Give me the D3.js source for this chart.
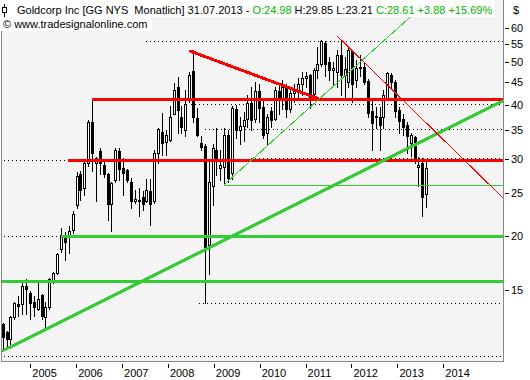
<!DOCTYPE html>
<html>
<head>
<meta charset="utf-8">
<script src="https://cdn.jsdelivr.net/npm/d3@7"></script>
<style>
  body { margin: 0; background: #fff; }
  svg { display: block; font-family: "Liberation Sans", Arial, sans-serif; }
</style>
</head>
<body>
<svg id="chart" width="530" height="380"></svg>
<script>
// monthly bars, Jun 2004 .. Jul 2013
const months = d3.timeMonth.range(new Date(2004, 5, 1), new Date(2013, 7, 1));

const open = [12.5,12.0,11.6,13.0,13.95,13.9,15.3,14.8,14.1,13.6,14.6,13.0,13.7,15.8,16.4,18.6,19.9,19.9,20.6,23.5,
  27.7,25.7,29.3,36.4,29.3,31.3,29.1,27.7,23.7,26.8,31.3,28.6,28.3,26.5,24.0,24.2,24.5,24.0,25.3,24.0,
  30.9,34.6,32.9,33.1,38.1,43.8,37.4,34.9,41.0,47.8,37.3,32.6,32.1,19.0,26.0,31.4,28.6,28.8,34.1,27.9,
  39.0,35.0,35.8,37.0,40.4,37.0,43.0,39.5,34.5,38.7,37.0,43.0,41.0,43.9,39.0,42.5,43.0,44.6,46.0,46.7,
  42.4,48.0,49.7,55.5,50.1,48.0,47.6,52.0,46.7,45.0,53.0,45.6,48.6,48.9,45.4,38.7,37.6,37.5,37.5,41.3,
  46.9,45.2,38.9,37.0,36.0,32.6,33.7,28.7,29.3,24.98];
const high = [12.6,12.1,13.05,14.1,14.5,15.6,15.9,14.95,14.5,15.6,14.7,14.1,16.0,16.5,18.2,20.8,20.4,21.0,22.8,28.0,
  28.1,29.5,36.8,41.4,30.3,31.8,29.8,27.8,26.5,31.8,31.8,30.1,28.4,27.2,25.5,25.7,25.3,27.0,27.0,31.4,
  35.3,38.3,35.0,39.8,44.8,46.3,39.8,43.3,47.5,53.4,39.2,33.9,32.5,29.5,32.5,35.4,31.5,35.4,35.0,39.7,
  40.0,37.5,38.5,42.0,44.0,45.0,44.5,41.0,38.0,39.5,43.8,44.5,45.5,44.5,43.5,44.5,46.0,47.5,47.5,47.0,
  48.5,54.2,56.2,56.0,51.5,50.0,53.5,56.3,51.5,54.0,53.5,50.6,52.0,50.0,45.8,41.0,39.5,39.5,43.2,47.5,
  47.3,45.5,39.5,38.0,36.5,34.5,33.8,30.3,30.2,29.85];
const low = [11.0,11.0,11.2,12.9,13.1,13.2,13.2,12.9,13.1,13.5,12.9,12.2,13.6,15.6,16.3,18.3,17.6,18.2,20.3,23.1,
  24.1,24.8,28.9,28.2,24.0,27.7,27.3,21.7,20.5,26.5,26.8,24.8,26.6,23.1,23.8,22.2,22.9,23.9,21.2,23.8,
  29.3,30.6,30.6,33.0,38.0,34.5,34.5,33.9,40.6,36.5,33.9,31.5,14.0,16.3,23.5,27.5,26.8,26.2,26.5,27.0,
  33.5,32.5,33.0,35.5,35.0,36.5,36.5,33.5,32.5,35.5,36.8,38.0,39.0,37.5,38.5,40.5,41.5,42.0,44.0,39.3,
  41.5,46.0,49.0,46.5,45.5,44.5,44.0,42.2,41.0,44.0,40.5,43.9,46.5,44.5,37.5,31.5,35.3,31.5,35.3,41.0,
  43.5,37.5,34.5,34.0,31.0,30.5,29.3,26.0,22.2,23.21];
const close = [11.7,11.6,13.0,14.0,13.8,15.3,15.1,14.0,13.7,14.3,13.1,13.7,15.9,16.4,18.1,20.1,19.3,20.5,22.4,27.4,
  25.5,29.3,36.4,30.9,30.1,29.3,27.7,23.7,26.4,31.4,28.5,27.9,26.8,24.0,24.3,24.1,23.7,25.5,23.6,30.9,
  35.1,32.7,34.1,37.4,43.2,38.8,35.6,40.1,46.7,37.5,34.1,32.0,18.7,26.5,31.8,29.8,29.0,34.0,27.2,39.3,
  35.0,35.8,36.8,40.4,36.8,43.0,39.3,34.0,37.5,36.8,43.2,41.0,43.9,39.0,42.5,43.0,44.6,46.0,46.5,41.6,
  48.0,49.7,56.0,49.7,48.0,48.5,52.0,46.7,48.3,53.5,44.5,48.6,48.9,45.2,38.3,36.3,37.4,35.9,42.0,47.3,
  45.2,38.7,36.6,35.5,33.9,34.1,29.8,29.1,24.6,28.61];

// drawn support / resistance levels (price, starting bar index)
const redLevels = [41.2, 29.8];
const redFrom = [23, 16.9];
const greenLevels = [20.0, 15.7];
const greenFrom = [15, -0.7];
const thinGreenLevel = 26.2;
const thinGreenFrom = 57;
// dotted price lines (price, from bar, to bar)
const dotLevels = [56.1, 40.1, 35.1, 30.1, 29.8, 20.0, 14.0, 10.6];
const dotFrom = [37, 48.5, 52, 64, -0.7, -0.7, 50.5, -0.7];
const dotTo = [129, 129, 129, 129, 16.9, 15, 129, 129];
// trend lines: [bar index, price] pairs
const greenTrend = [[-0.7, 10.8], [128.8, 40.8]];
const greenTrendThin = [[57, 26.2], [109.2, 68.9]];
const redTrend = [[48, 53.2], [81.2, 41.3]];
const redTrendThin = [[86.1, 57.5], [128.8, 24.4]];

const yTicks = [15, 20, 25, 30, 35, 40, 45, 50, 55, 60];

const plot = { left: 1, right: 503, top: 0, bottom: 361 };
const svg = d3.select('#chart');

let x = d3.scaleLinear().domain([0, months.length - 1]).range([2.7, 426.2]);
let y = d3.scaleLog().domain([15, 60]).range([290, 28]);
let xTime = d3.scaleTime().domain([new Date(2005, 0, 1), new Date(2014, 0, 1)]).range([30.3, 443.3]);

svg.append('defs').append('clipPath').attr('id', 'plotclip')
  .append('rect')
  .attr('x', plot.left).attr('y', plot.top)
  .attr('width', plot.right - plot.left).attr('height', plot.bottom - plot.top);

svg.append('rect')
  .attr('x', plot.left).attr('y', plot.top)
  .attr('width', plot.right - plot.left).attr('height', plot.bottom - plot.top)
  .attr('fill', '#f4f4f4');

let g = svg.append('g').attr('clip-path', 'url(#plotclip)');

// dotted lines
g.selectAll('line.dot')
  .data(dotLevels)
  .enter().append('line')
  .attr('class', 'dot')
  .attr('x1', (d, i) => x(dotFrom[i]))
  .attr('x2', (d, i) => x(dotTo[i]))
  .attr('y1', d => Math.round(y(d)) + 0.5)
  .attr('y2', d => Math.round(y(d)) + 0.5)
  .attr('stroke', '#000')
  .attr('stroke-dasharray', '1,3')
  .attr('shape-rendering', 'crispEdges');

// candles
let bars = months.map((m, i) => ({ i, o: open[i], h: high[i], l: low[i], c: close[i] }));

let candle = g.selectAll('g.candle')
  .data(bars)
  .enter().append('g')
  .attr('class', 'candle')
  .attr('shape-rendering', 'crispEdges');

candle.append('line')
  .attr('x1', d => Math.round(x(d.i)) + 0.5)
  .attr('x2', d => Math.round(x(d.i)) + 0.5)
  .attr('y1', d => Math.round(y(d.h)))
  .attr('y2', d => Math.round(y(d.l)) + 1)
  .attr('stroke', '#000');

candle.append('rect')
  .attr('x', d => Math.round(x(d.i)) - 0.5)
  .attr('width', 2)
  .attr('y', d => Math.round(y(Math.max(d.o, d.c))) + 0.5)
  .attr('height', d => Math.max(1, Math.round(y(Math.min(d.o, d.c))) - Math.round(y(Math.max(d.o, d.c)))))
  .attr('fill', d => d.c >= d.o ? '#fff' : '#000')
  .attr('stroke', '#000');

// horizontal levels
function hline(price, from, color, width) {
  let yy = Math.round(y(price));
  g.append('line')
    .attr('x1', x(from)).attr('x2', plot.right)
    .attr('y1', yy).attr('y2', yy)
    .attr('stroke', color).attr('stroke-width', width)
    .attr('shape-rendering', 'crispEdges');
}
redLevels.forEach((p, i) => hline(p, redFrom[i], '#ff0000', 3));
greenLevels.forEach((p, i) => hline(p, greenFrom[i], '#33cc33', 3));
hline(thinGreenLevel, thinGreenFrom, '#33cc33', 1);

// trend lines
let trendLine = d3.line().x(d => x(d[0])).y(d => y(d[1]));
function tline(pts, color, width) {
  g.append('path')
    .attr('d', trendLine(pts))
    .attr('fill', 'none')
    .attr('stroke', color).attr('stroke-width', width)
    .attr('shape-rendering', 'crispEdges');
}
tline(greenTrend, '#33cc33', 3);
tline(greenTrendThin, '#33cc33', 1);
tline(redTrend, '#ff0000', 3);
tline(redTrendThin, '#ff0000', 1);

// frame
svg.append('path')
  .attr('d', `M${plot.left + 0.5},30V${plot.bottom + 0.5}H${plot.right + 0.5}V0`)
  .attr('fill', 'none')
  .attr('stroke', '#888')
  .attr('shape-rendering', 'crispEdges');

// axes
let yAxis = svg.append('g')
  .attr('transform', `translate(${plot.right + 2},0)`)
  .call(d3.axisRight(y).tickValues(yTicks).tickFormat(d3.format('d')).tickSize(4).tickPadding(2));
yAxis.select('.domain').remove();
yAxis.selectAll('text').attr('font-size', 11).attr('font-family', '"Liberation Sans", Arial, sans-serif').attr('fill', '#000');
yAxis.selectAll('line').attr('stroke', '#000').attr('shape-rendering', 'crispEdges');

svg.append('text')
  .attr('x', 513).attr('y', 14)
  .attr('font-size', 11)
  .text('$');

let xAxis = svg.append('g')
  .attr('transform', `translate(0,${plot.bottom + 3})`)
  .call(d3.axisBottom(xTime).ticks(d3.timeYear.every(1)).tickFormat(d3.timeFormat('%Y')).tickSize(4));
xAxis.select('.domain').remove();
xAxis.selectAll('line').attr('stroke', '#000').attr('shape-rendering', 'crispEdges');
xAxis.selectAll('text')
  .attr('text-anchor', 'start')
  .attr('x', 1.5)
  .attr('y', 13)
  .attr('dy', null)
  .attr('font-size', 11)
  .attr('font-family', '"Liberation Sans", Arial, sans-serif')
  .attr('fill', '#000');

// header
svg.append('rect').attr('x', 0).attr('y', 0).attr('width', 495).attr('height', 17).attr('fill', '#fff');
svg.append('rect').attr('x', 0).attr('y', 17).attr('width', 152).attr('height', 14).attr('fill', '#fff');

let icon = svg.append('g').attr('shape-rendering', 'crispEdges');
icon.append('line').attr('x1', 4.5).attr('x2', 4.5).attr('y1', 4).attr('y2', 17).attr('stroke', '#000');
icon.append('rect').attr('x', 2.5).attr('y', 7.5).attr('width', 4).attr('height', 5)
  .attr('fill', '#fff').attr('stroke', '#000');

let title = svg.append('text').attr('x', 17).attr('y', 14).attr('font-size', 11);
let green = '#00b400';
[['Goldcorp Inc [GG NYS\u00a0 Monatlich] 31.07.2013 - ', '#000'],
 ['O:24.98 ', green], ['H:29.85 ', '#000'], ['L:23.21 ', '#000'],
 ['C:28.61 +3.88 +15.69%', green]].forEach(p => {
  title.append('tspan').attr('fill', p[1]).text(p[0]);
});

svg.append('text').attr('x', 3).attr('y', 28).attr('font-size', 11)
  .text('\u00a9 www.tradesignalonline.com');
</script>
</body>
</html>
